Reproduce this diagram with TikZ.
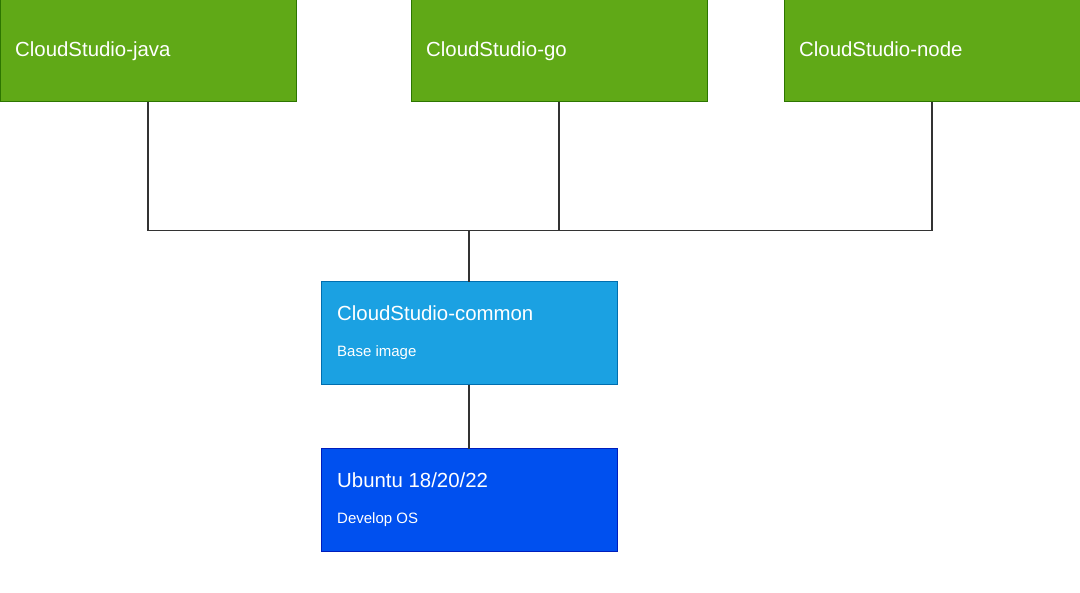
\documentclass[tikz,border=0pt]{standalone}
\usepackage{fontspec}
\setmainfont{Liberation Sans}
\definecolor{gfill}{HTML}{60A917}
\definecolor{gline}{HTML}{2D7600}
\definecolor{cfill}{HTML}{1BA1E2}
\definecolor{cline}{HTML}{006EAF}
\definecolor{ufill}{HTML}{0050EF}
\definecolor{uline}{HTML}{001DBC}
\definecolor{wire}{HTML}{333333}
\tikzset{
  box/.style={draw, line width=1pt, minimum width=296pt, minimum height=102pt, inner sep=0pt, outer sep=0pt},
  greenbox/.style={box, fill=gfill, draw=gline},
  commonbox/.style={box, fill=cfill, draw=cline, minimum height=103pt},
  ububox/.style={box, fill=ufill, draw=uline, minimum height=103pt},
  title/.style={anchor=base west, inner sep=0pt, text=white, font=\fontsize{20.4}{24}\selectfont},
  sub/.style={anchor=base west, inner sep=0pt, text=white, font=\fontsize{15}{18}\selectfont},
  wireline/.style={draw=wire, line width=1.3pt}
}
\begin{document}
\begin{tikzpicture}[x=1pt,y=-1pt]
\useasboundingbox (0,0) rectangle (1080,593);
\fill[white] (0,0) rectangle (1080,593);
\node[greenbox] (java) at (148,51) {};
\node[greenbox] (go) at (559,51) {};
\node[greenbox] (nd) at (932,51) {};
\node[commonbox] (common) at (469,333.5) {};
\node[ububox] (ubuntu) at (469,500.5) {};
\node[title] (tjava) at (15,57) {CloudStudio-java};
\node[title] (tgo) at (426,57) {CloudStudio-go};
\node[title] (tnd) at (799,57) {CloudStudio-node};
\node[title] (tcommon) at (337,321) {CloudStudio-common};
\node[sub] (scommon) at (337,357) {Base image};
\node[title] (tubuntu) at (337,488) {Ubuntu 18/20/22};
\node[sub] (subuntu) at (337,524) {Develop OS};
\coordinate (bus) at (469,230.5);
\draw[wireline] (java.south) |- (bus);
\draw[wireline] (go.south) |- (bus);
\draw[wireline] (nd.south) |- (bus);
\draw[wireline] (bus) -- (common.north);
\draw[wireline] (common.south) -- (ubuntu.north);
\end{tikzpicture}
\end{document}
